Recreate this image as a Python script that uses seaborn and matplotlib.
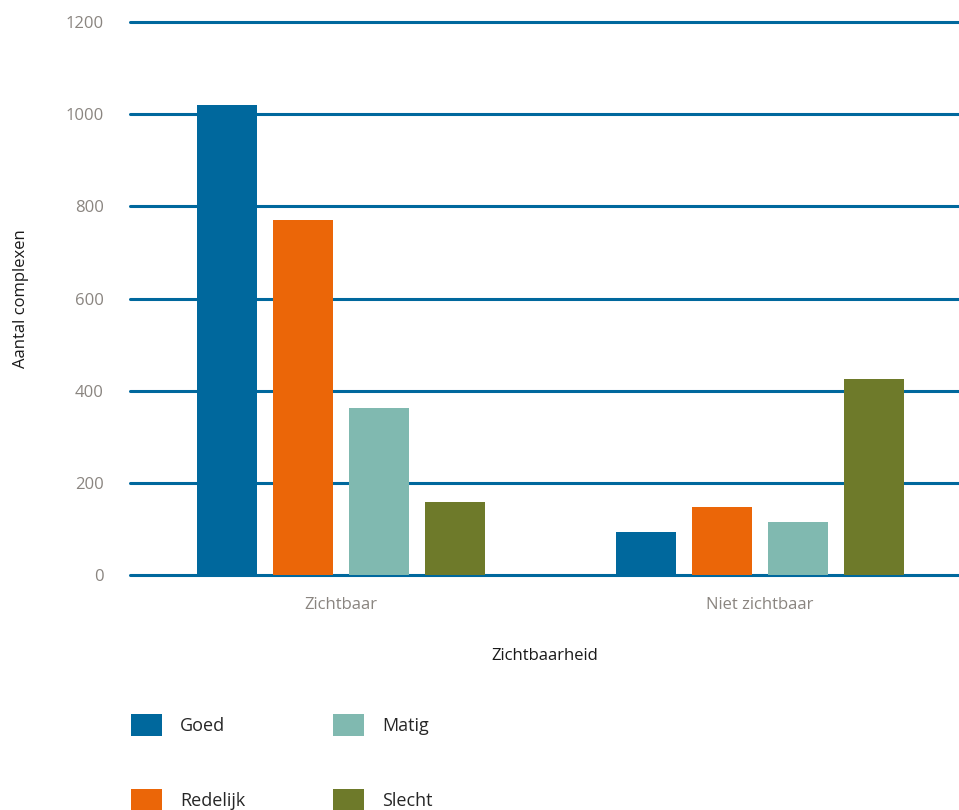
import pandas as pd
import numpy as np
import matplotlib.pyplot as plt
import seaborn as sns

# ======================================
# DATA
# ======================================

zichtbaarheid = ["Zichtbaar", "Niet zichtbaar"]
staat = ["Goed", "Redelijk", "Matig", "Slecht"]

goed = [1020, 93]
redelijk = [770, 148]
matig = [362, 115]
slecht = [158, 425]

kleuren = ["#00689d", "#eb6608", "#80b9b0", "#6e7a2a"]

rows = []
for naam, waarden in zip(staat, [goed, redelijk, matig, slecht]):
    for z, w in zip(zichtbaarheid, waarden):
        rows.append({"Zichtbaarheid": z, "Staat": naam, "Aantal": w})

df = pd.DataFrame(rows)

# ======================================
# PLOT
# ======================================

sns.set_style("white")
plt.rcParams["font.family"] = ["Open Sans", "DejaVu Sans"]

fig = plt.figure(figsize=(9.59, 8.10), dpi=100)
ax = fig.add_axes([130 / 959, 1 - 575 / 810, 1 - 130 / 959, (575 - 22) / 810])

sns.barplot(
    data=df,
    x="Zichtbaarheid",
    y="Aantal",
    hue="Staat",
    order=zichtbaarheid,
    hue_order=staat,
    palette=kleuren,
    width=0.725,
    gap=0.21,
    saturation=1,
    linewidth=0,
    legend=True,
    ax=ax,
    zorder=3,
)

ax.set_ylim(0, 1200)
ax.set_xlim(-0.504, 1.475)
ax.set_yticks(np.arange(0, 1201, 200))

ax.yaxis.grid(True, color="#00689d", linewidth=2.2, zorder=1)
for gl in ax.get_ygridlines():
    gl.set_clip_on(False)
ax.set_axisbelow(True)
for s in ax.spines.values():
    s.set_visible(False)

ax.tick_params(axis="both", length=0, labelsize=12, labelcolor="#8a8580")
ax.tick_params(axis="y", pad=19)
ax.tick_params(axis="x", pad=16)

ax.set_xlabel("Zichtbaarheid", fontsize=12, color="#1a1a1a", labelpad=25)
ax.set_ylabel("Aantal complexen", fontsize=12, color="#1a1a1a", labelpad=26)

# legend
handles, labels = ax.get_legend_handles_labels()
ax.get_legend().remove()
fig.legend(
    handles,
    labels,
    ncol=2,
    loc="upper left",
    bbox_to_anchor=(131 / 959, 1 - 714 / 810),
    frameon=False,
    fontsize=13,
    handlelength=1.7,
    handleheight=1.5,
    handletextpad=1.0,
    labelspacing=2.95,
    columnspacing=4.9,
    borderpad=0,
    borderaxespad=0,
)

plt.savefig("out.png", dpi=100)
plt.close()
